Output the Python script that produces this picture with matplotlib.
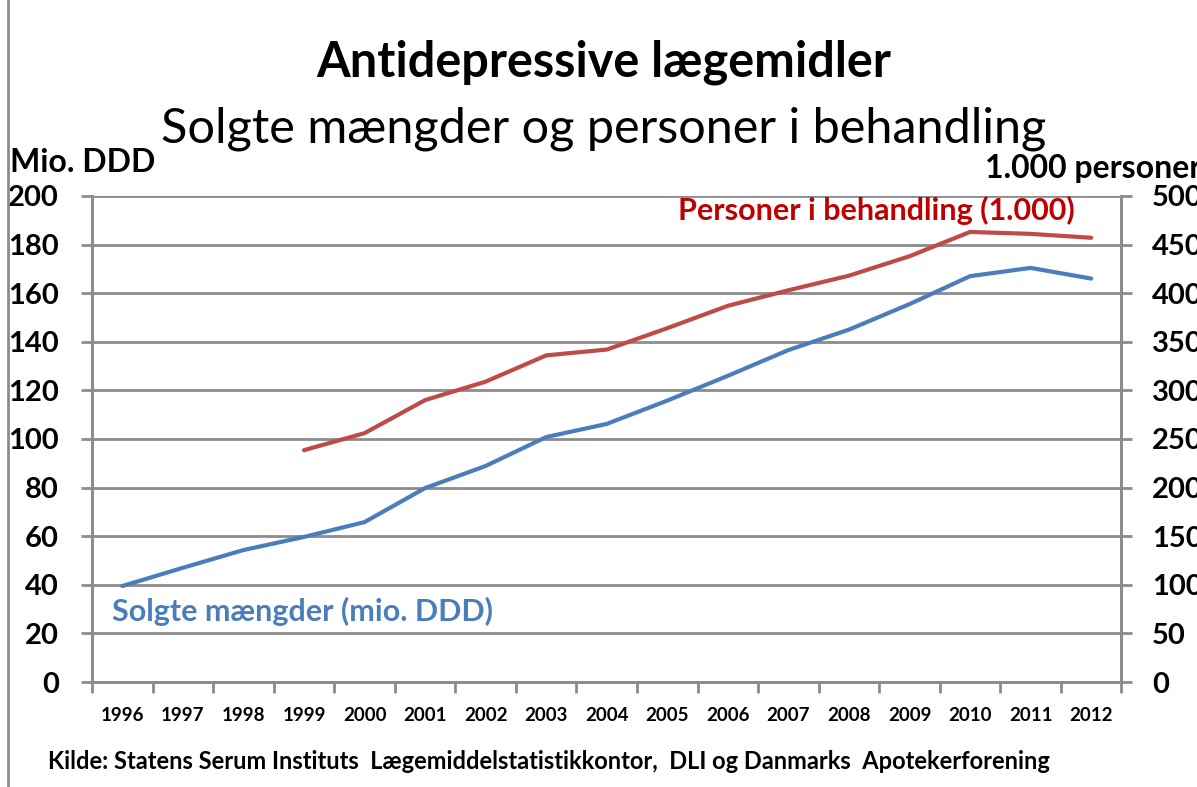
import matplotlib.pyplot as plt
import numpy as np
from matplotlib.lines import Line2D

plt.rcParams['font.family'] = ['Lato', 'DejaVu Sans']

years = ["1996", "1997", "1998", "1999", "2000", "2001", "2002", "2003", "2004",
         "2005", "2006", "2007", "2008", "2009", "2010", "2011", "2012"]
solgte_ddd = [39.5, 47, 54.3, 59.7, 65.8, 79.8, 88.9, 100.8, 106.2,
              115.8, 126, 136.6, 145, 155.5, 167, 170.4, 166]
personer = [np.nan, np.nan, np.nan, 238.5, 256, 290, 309, 336, 342,
            364, 387, 403, 418, 438, 463, 461, 457]

blue = "#4A7EBB"
red = "#BE4B48"
grid_col = "#8C8C8C"

fig = plt.figure(figsize=(11.97, 7.87), dpi=100)
ax = fig.add_axes([0.0769, 0.1334, 0.86, 0.6176])
ax2 = ax.twinx()

x = np.arange(len(years))
ax.plot(x, solgte_ddd, color=blue, linewidth=3, solid_capstyle="round", zorder=3)
ax2.plot(x, personer, color=red, linewidth=3, solid_capstyle="round", zorder=3)

ax.set_xlim(-0.5, len(years) - 0.5)
ax.set_ylim(0, 200)
ax2.set_ylim(0, 500)
ax.set_yticks(np.arange(0, 201, 20))
ax2.set_yticks(np.arange(0, 501, 50))
ax.set_xticks(np.arange(-0.5, len(years), 1))
ax.set_xticklabels([])
ax.set_xticks(x, minor=True)
ax.set_xticklabels(years, minor=True, fontsize=13.5, fontweight="bold")
ax.tick_params(axis="x", which="minor", length=0, pad=18)
ax.tick_params(axis="x", which="major", length=8, width=2, color=grid_col, direction="out")
ax.tick_params(axis="y", length=8, width=2, color=grid_col, labelsize=21, pad=16)
ax2.tick_params(axis="y", length=8, width=2, color=grid_col, labelsize=21, pad=14)
for lab in ax.get_yticklabels() + ax2.get_yticklabels():
    lab.set_fontweight("bold")

ax.grid(axis="y", color=grid_col, linewidth=2)
ax.set_axisbelow(True)
for a in (ax, ax2):
    a.spines["top"].set_visible(False)
    for s in ("left", "right", "bottom"):
        a.spines[s].set_color(grid_col)
        a.spines[s].set_linewidth(2)

ax.text(0.019, 0.146, "Solgte mængder (mio. DDD)", transform=ax.transAxes,
        color=blue, fontsize=22, fontweight="bold", ha="left", va="center")
ax2.text(9.17, 485, "Personer i behandling (1.000)", color="#C00000",
         fontsize=22, fontweight="bold", ha="left", va="center")

fig.text(0.504, 0.921, "Antidepressive lægemidler", fontsize=35, fontweight="bold",
         ha="center", va="center")
fig.text(0.504, 0.836, "Solgte mængder og personer i behandling", fontsize=35,
         ha="center", va="center")
fig.text(0.008, 0.793, "Mio. DDD", fontsize=23, fontweight="bold", ha="left", va="center")
fig.text(0.823, 0.786, "1.000 personer", fontsize=23, fontweight="bold", ha="left", va="center")
fig.text(0.04, 0.032, "Kilde: Statens Serum Instituts  Lægemiddelstatistikkontor,  DLI og Danmarks  Apotekerforening",
         fontsize=17, fontweight="bold", ha="left", va="center")

fig.add_artist(Line2D([0.007, 0.007], [0, 1], transform=fig.transFigure,
                      color=grid_col, linewidth=2))

fig.savefig("out.png", dpi=100)
